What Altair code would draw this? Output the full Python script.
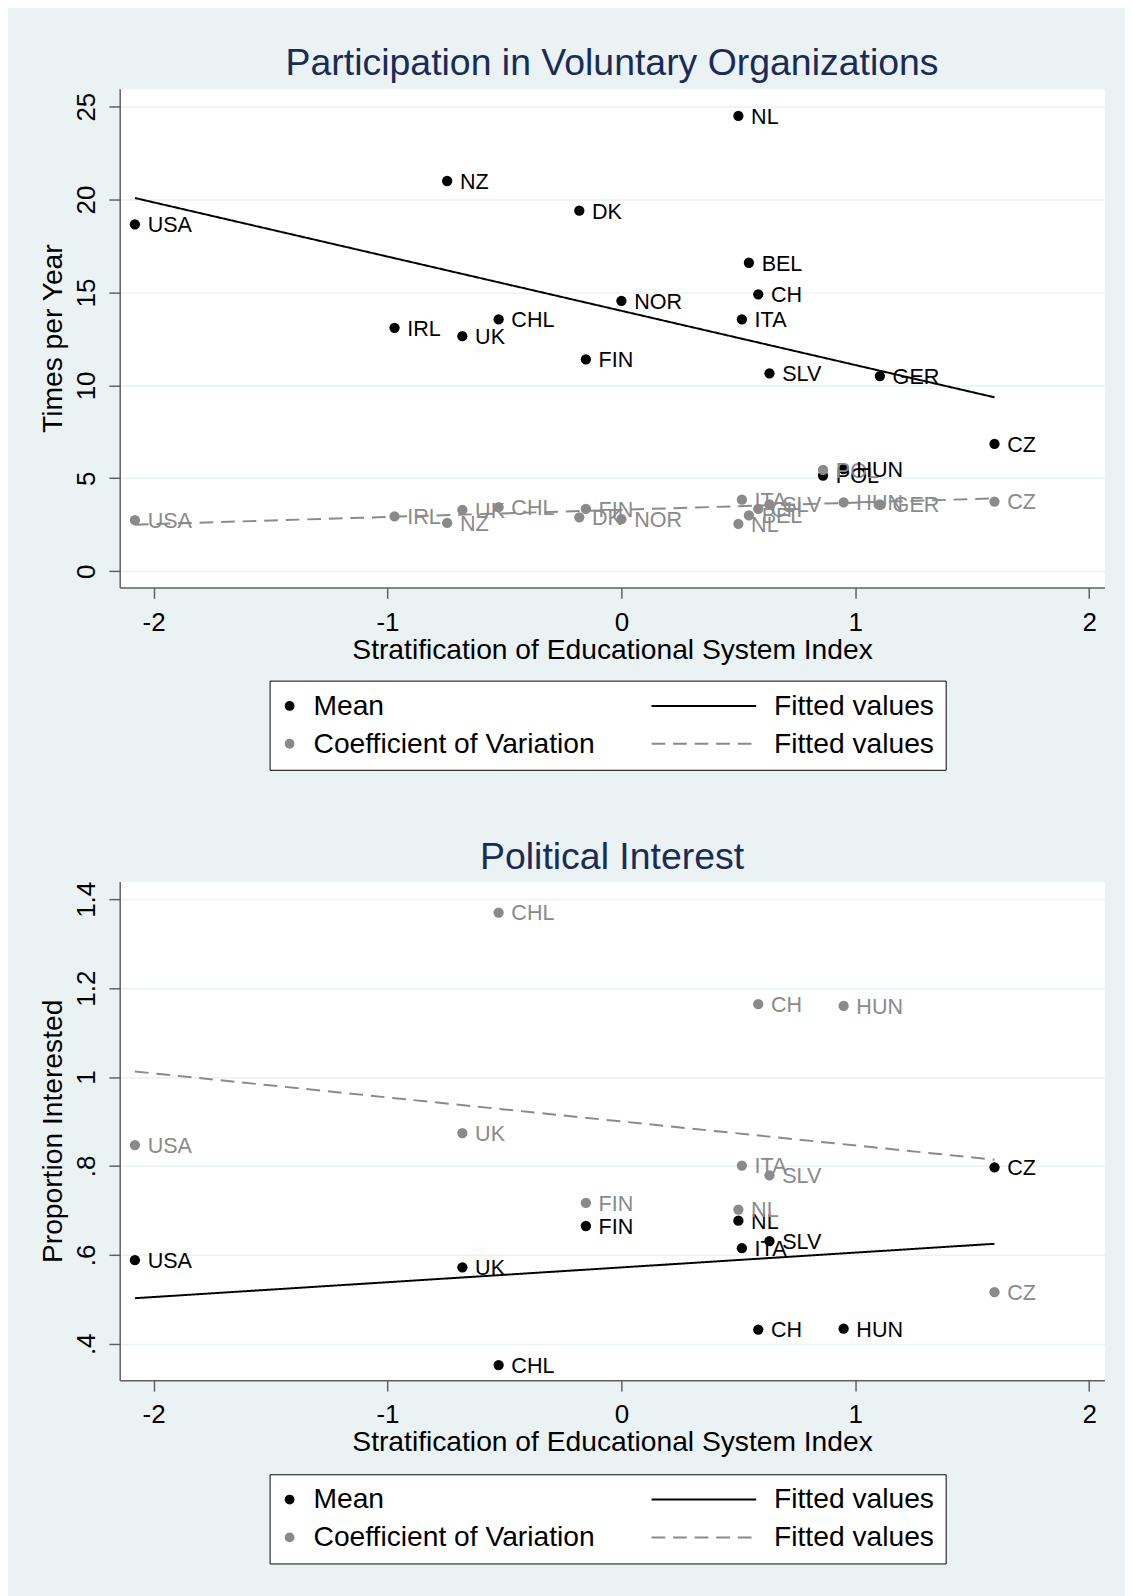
import altair as alt
import pandas as pd

FONT = "Liberation Sans, Arial, Helvetica, sans-serif"
BG = "#EAF2F3"
NAVY = "#1A2B57"
GRAY = "#8A8A8A"

# Stratification of Educational System Index, per country
strat_countries = ["USA", "NZ", "DK", "NL", "BEL", "CH", "NOR", "ITA", "IRL",
                   "UK", "CHL", "FIN", "SLV", "GER", "CZ", "POL", "HUN"]
strat_index = [-2.08, -0.745, -0.18, 0.50, 0.545, 0.585, 0.0, 0.515, -0.97,
               -0.68, -0.525, -0.152, 0.633, 1.105, 1.595, 0.862, 0.95]

# Participation in Voluntary Organizations (times per year)
part_countries = ["USA", "NZ", "DK", "NL", "BEL", "CH", "NOR", "ITA", "IRL",
                  "UK", "CHL", "FIN", "SLV", "GER", "CZ", "POL", "HUN"]
part_mean = [18.67, 21.0, 19.4, 24.5, 16.6, 14.9, 14.55, 13.55, 13.1,
             12.65, 13.55, 11.4, 10.65, 10.5, 6.85, 5.15, 5.5]
part_cv = [2.75, 2.6, 2.9, 2.55, 3.0, 3.35, 2.8, 3.85, 2.95,
           3.3, 3.45, 3.35, 3.6, 3.6, 3.75, 5.45, 3.7]

# Political Interest (proportion interested)
pol_countries = ["USA", "UK", "CHL", "FIN", "NL", "ITA", "SLV", "CH", "HUN", "CZ"]
pol_mean = [0.588, 0.572, 0.352, 0.665, 0.677, 0.615, 0.631, 0.432, 0.434, 0.797]
pol_cv = [0.847, 0.874, 1.37, 0.717, 0.702, 0.801, 0.779, 1.164, 1.16, 0.516]

x_ticks = [-2, -1, 0, 1, 2]
part_ticks = [0, 5, 10, 15, 20, 25]
pol_ticks = [0.4, 0.6, 0.8, 1.0, 1.2, 1.4]

KEYS = ["mean", "fitm", "cv", "fitc"]
LINE_PATH = "M-20.12,0H1.24"

STRAT = dict(zip(strat_countries, strat_index))


def long_df(cs, means, cvs):
    rows = []
    for c, m, v in zip(cs, means, cvs):
        rows.append(dict(country=c, x=STRAT[c], y=m, series="mean", fit="fitm"))
        rows.append(dict(country=c, x=STRAT[c], y=v, series="cv", fit="fitc"))
    return pd.DataFrame(rows)


def panel(df, title, ytitle, ydomain, yticks, ylabelexpr, legend_y, title_offset):
    xs = alt.Scale(domain=[-2.145, 2.065], nice=False, zero=False)
    ys = alt.Scale(domain=ydomain, nice=False, zero=False)
    xenc = alt.X("x:Q", scale=xs,
                 axis=alt.Axis(values=x_ticks, labelExpr="'' + datum.value",
                               title="Stratification of Educational System Index",
                               grid=False, labelPadding=11.5, titlePadding=0,
                               labelFlush=False))
    yenc = alt.Y("y:Q", scale=ys,
                 axis=alt.Axis(values=yticks, labelExpr=ylabelexpr, title=ytitle,
                               grid=True, labelAngle=270, labelAlign="center",
                               labelBaseline="bottom", labelPadding=9,
                               titlePadding=6))
    leg = alt.Legend(title=None, orient="none", legendX=153, legendY=legend_y,
                     direction="horizontal", columns=2, columnPadding=53,
                     rowPadding=9, padding=11, labelOffset=10, symbolOffset=-5,
                     labelFontSize=28.8, labelFont=FONT,
                     labelColor="black", labelLimit=500, symbolSize=100,
                     symbolStrokeWidth=2, symbolOpacity=1,
                     symbolFillColor="transparent", strokeColor="black",
                     fillColor="white",
                     labelExpr="datum.value == 'mean' ? 'Mean' : (datum.value == 'cv' ? 'Coefficient of Variation' : 'Fitted values')")
    base = alt.Chart(df)
    lines = base.transform_regression("x", "y", groupby=["fit"]).mark_line(
        strokeWidth=2
    ).encode(
        x=xenc, y=yenc,
        stroke=alt.Stroke("fit:N", scale=alt.Scale(
            domain=KEYS, range=["transparent", "black", "transparent", GRAY]), legend=leg),
        strokeDash=alt.StrokeDash("fit:N", scale=alt.Scale(
            domain=KEYS, range=[[1, 0], [1, 0], [1, 0], [14, 8]]), legend=leg),
    )
    points = base.mark_point(filled=True, size=110, opacity=1).encode(
        x=xenc, y=yenc,
        fill=alt.Fill("series:N", scale=alt.Scale(
            domain=KEYS, range=["black", "transparent", GRAY, "transparent"]), legend=leg),
        shape=alt.Shape("series:N", scale=alt.Scale(
            domain=KEYS, range=["circle", LINE_PATH, "circle", LINE_PATH]), legend=leg),
    )
    labels = base.mark_text(align="left", baseline="middle", dx=13, dy=1,
                            fontSize=22, font=FONT).encode(
        x=xenc, y=yenc, text="country:N",
        color=alt.Color("series:N", scale=alt.Scale(domain=["mean", "cv"],
                                                     range=["black", GRAY]),
                        legend=None),
    )
    return alt.layer(lines, points, labels).properties(
        width=1005, height=509,
        title=alt.TitleParams(title, fontSize=38.2, font=FONT, color=NAVY,
                              fontWeight="normal", anchor="middle",
                              offset=title_offset),
    )


top = panel(long_df(part_countries, part_mean, part_cv),
            "Participation in Voluntary Organizations", "Times per Year",
            [-0.88, 25.96], part_ticks, "'' + datum.value", 604, 5.5)
bottom = panel(long_df(pol_countries, pol_mean, pol_cv),
               "Political Interest", "Proportion Interested",
               [0.318, 1.44], pol_ticks,
               "datum.value == 1 ? '1' : (datum.value < 1 ? '.' + round(datum.value * 10) : format(datum.value, '.1f'))",
               605, 4.5)

chart = alt.vconcat(top, bottom, spacing=68).resolve_scale(
    fill="independent", stroke="independent", shape="independent",
    strokeDash="independent", color="independent"
).resolve_legend(
    fill="independent", stroke="independent", shape="independent",
    strokeDash="independent"
).properties(
    background=BG,
    padding={"left": 31, "top": 20, "right": 20, "bottom": 30},
).configure_view(
    fill="white", stroke="transparent"
).configure_axis(
    labelFont=FONT, titleFont=FONT, labelFontSize=26.5, titleFontSize=28.8,
    labelColor="black", titleColor="black", titleFontWeight="normal",
    domainColor="#5f5f5f", domainWidth=1.5, tickColor="#5f5f5f", tickWidth=1.5,
    tickSize=11, gridColor=BG, gridWidth=1.5,
)

chart.save("out.html", embed_options={"renderer": "svg", "actions": False})
